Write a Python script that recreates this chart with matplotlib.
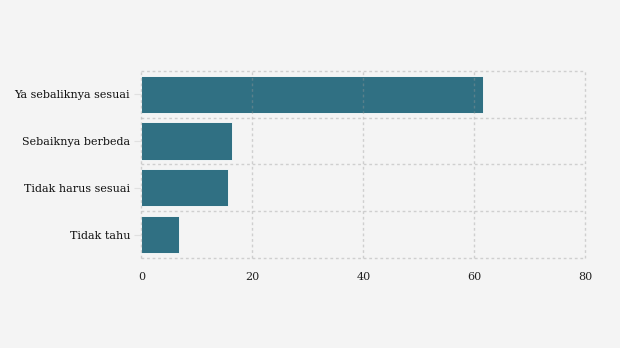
import numpy as np
from matplotlib import pyplot as plt

categories = ['Ya sebaliknya sesuai', 'Sebaiknya berbeda', 'Tidak harus sesuai', 'Tidak tahu']
values = [61.6, 16.3, 15.6, 6.8]
xticks = [0, 20, 40, 60, 80]

plt.rcParams['font.family'] = ['DejaVu Serif']

fig = plt.figure(figsize=(6.2, 3.48), dpi=100, facecolor='#f4f4f4')
ax = fig.add_axes([0.228, 0.259, 0.716, 0.537])
ax.set_facecolor('#f4f4f4')

y = np.arange(len(categories))
ax.barh(y, values, height=0.8, color='#307083', edgecolor='#ffffff', linewidth=0.6, zorder=2)

ax.set_xlim(0, 80)
ax.set_ylim(len(categories) - 0.5, -0.5)
ax.set_xticks(xticks)
ax.set_yticks(y)
ax.set_yticklabels(categories)
ax.set_yticks(np.arange(-0.5, len(categories), 1.0), minor=True)

for s in ax.spines.values():
    s.set_visible(False)

# dotted grid drawn over the bars, semi-transparent
ax.set_axisbelow(False)
ax.grid(True, axis='x', which='major', color='#999999', alpha=0.4, linestyle=(0, (2, 2)), linewidth=1)
ax.grid(True, axis='y', which='minor', color='#999999', alpha=0.4, linestyle=(0, (2, 2)), linewidth=1)
ax.grid(False, axis='y', which='major')
for gl in ax.get_xgridlines() + [t.gridline for t in ax.yaxis.get_minor_ticks()]:
    gl.set_clip_on(False)
    gl.set_zorder(3)

ax.tick_params(axis='x', length=0, labelsize=8, pad=10, colors='#222222')
ax.tick_params(axis='y', which='major', length=5, color='#e0e0e0', labelsize=8, pad=3, labelcolor='#111111')
ax.tick_params(axis='y', which='minor', length=0)

fig.savefig('out.png', dpi=100, facecolor=fig.get_facecolor())
